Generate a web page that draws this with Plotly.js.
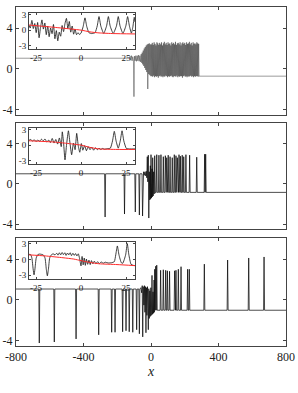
<!DOCTYPE html>
<html>
<head>
<meta charset="utf-8">
<script src="https://cdn.plot.ly/plotly-3.0.1.min.js"></script>
<style>html,body{margin:0;padding:0;background:#fff;}#chart{width:298px;height:393px;}</style>
</head>
<body>
<div id="chart"></div>
<script>
// ---------- tick labels ----------
const xTickVals = [-800, -400, 0, 400, 800];
const xTickText = ['-800', '-400', '0', '400', '800'];
const yTickVals = [-4, 0, 4];
const yTickText = ['-4', '0', '4'];
const insetXTickVals = [-25, 0, 25];
const insetXTickText = ['-25', '0', '25'];
const insetYTickVals = [-3, 0, 3];
const insetYTickText = ['-3', '0', '3'];
const xTitle = 'x';

// ---------- panel 1 (main) ----------
const main1X = [-800,-128,-124,-120,-116,-112,-108,-104,-101,-98,-94,-90,-86,-82,-78,-74,-70,-66,-62,-58,-55,-52,-49,-46,-43,-40,-37,-34,-31,-28,-25,-22,-19,-16,-13,-10,-7,-4,-1,
  2,4.8,7.5,10.3,13,15.7,18.5,21.2,24,26.8,
  29.5,32.3,35,37.7,40.5,43.2,46,48.8,51.5,54.3,
  57,59.7,62.5,65.2,68,70.8,73.5,76.3,79,81.7,
  84.5,87.2,90,92.8,95.5,98.3,101,103.7,106.5,109.2,
  112,114.8,117.5,120.3,123,125.7,128.5,131.2,134,136.8,
  139.5,142.3,145,147.7,150.5,153.2,156,158.8,161.5,164.3,
  167,169.7,172.5,175.2,178,180.8,183.5,186.3,189,191.7,
  194.5,197.2,200,202.8,205.5,208.3,211,213.7,216.5,219.2,
  222,224.8,227.5,230.3,233,235.7,238.5,241.2,244,246.8,
  249.5,252.3,255,257.7,260.5,263.2,266,268.8,271.5,274.3,
  277,279.7,282.5,285.2,
  800];
const main1Y = [1.05,1.05,1.25,0.85,1.3,0.8,1.2,0.9,-2.7,1.25,0.8,1.3,0.75,1.3,0.8,1.35,0.75,1.3,0.7,1.45,0.6,1.6,0.45,1.8,0.3,2.0,0.1,2.15,-0.1,2.3,-0.3,2.4,-1.95,2.45,-0.5,2.5,-0.6,2.4,-0.7,
  2.4,-0.7,2.55,-0.75,2.35,-0.65,2.6,-0.8,2.45,-0.7,
  2.3,-0.75,2.6,-0.7,2.5,-0.85,2.35,-0.7,2.55,-0.65,
  2.4,-0.75,2.6,-0.7,2.3,-0.8,2.5,-0.7,2.65,-0.75,
  2.4,-0.65,2.55,-0.7,2.35,-0.8,2.6,-0.7,2.45,-0.75,
  2.5,-0.7,2.3,-0.65,2.6,-0.75,2.45,-0.8,2.55,-0.7,
  2.4,-0.7,2.65,-0.75,2.35,-0.65,2.5,-0.8,2.55,-0.7,
  2.4,-0.75,2.6,-0.7,2.3,-0.7,2.5,-0.85,2.6,-0.7,
  2.45,-0.65,2.55,-0.75,2.35,-0.7,2.6,-0.8,2.45,-0.7,
  2.5,-0.75,2.65,-0.7,2.4,-0.65,2.55,-0.75,2.3,-0.7,
  2.6,-0.8,2.45,-0.7,2.5,-0.75,2.4,-0.7,2.6,-0.7,
  2.5,-0.75,2.45,-0.7,
  -0.7];

// ---------- panel 1 (inset) ----------
const inset1X = [-29,-28.2,-27.3,-26.5,-25.7,-24.9,-24.1,-23.3,-22.5,-21.7,-20.9,-20.1,-19.3,-18.5,-17.7,-16.9,-16.1,-15.3,-14.5,-13.7,-12.9,-12.1,-11.3,-10.5,-9.7,-8.9,-8.1,-7.3,-6.5,-5.7,-4.9,-4.1,-3.3,-2.5,-1.7,-0.9,
  0,1.2,2.2,3.2,4.4,6,7.8,9,10,11,12.6,14.2,15.2,16.2,17.9,19.7,20.7,21.7,23.3,24.9,25.9,26.9,28,28.8,29.6,30];
const inset1Y = [1.0,0.4,1.9,0.3,1.3,-0.5,1.5,-1.5,0.5,2.0,0.2,1.4,-0.9,0.8,-1.3,0.4,-0.7,1.1,-1.7,-0.1,-2.1,-0.4,-1.2,0.9,-0.3,1.3,2.3,0.3,1.7,-0.4,0.8,-0.8,0.2,-0.9,-0.5,-0.85,
  -0.6,0.7,2.4,0.7,-0.5,-0.68,-0.5,0.8,2.65,0.8,-0.65,0.8,2.65,0.8,-0.65,0.8,2.65,0.8,-0.65,0.8,2.65,0.8,-0.6,0.6,2.5,1.6];
const mean1X = [-29,-15,-5,0,5,10,18,30];
const mean1Y = [1.0,0.55,0.2,0.0,-0.35,-0.55,-0.68,-0.75];

// ---------- panel 2 (main) ----------
const main2X = [-800,-275,-272,-269,-160,-157,-154,-96,-93,-90,-72,-69,-66,-53,-50,-47,-44,-40,-36,-32,-28,-25,
  -22,-19,-16,-13,-10,-7,-4,-2,0,3,6,8,10,13,16,19,22,26,
  31,34,37,44,47,50,56,59,62,70,73,76,82,85,88,90,93,96,99,102,105,110,113,116,123,126,129,135,138,141,145,148,151,153,156,159,163,166,169,171,174,177,182,185,188,191,194,197,204,207,210,226,229,232,
  268,271,274,315,318,321,324,327,800];
const main2Y = [1.0,1.0,-3.3,1.0,1.0,-3.0,1.0,1.0,-2.8,1.0,1.0,-3.1,1.0,1.0,-3.2,1.0,1.2,0.85,1.2,0.8,1.25,0.6,
  2.7,0.2,2.85,-3.4,1.2,-1.6,1.8,-1.5,2.9,-1.4,1.5,-1.3,2.6,-1.2,1.2,-1.0,2.8,-0.9,
  -0.85,2.9,-0.85,-0.85,2.85,-0.85,-0.85,2.9,-0.85,-0.85,2.7,-0.85,-0.85,2.8,-0.85,-0.85,2.6,-0.85,-0.85,2.85,-0.85,-0.85,2.7,-0.85,-0.85,2.6,-0.85,-0.85,2.9,-0.85,-0.85,2.8,-0.85,-0.85,2.6,-0.85,-0.85,2.9,-0.85,-0.85,2.75,-0.85,-0.85,2.85,-0.85,-0.85,2.7,-0.85,-0.85,2.9,-0.85,-0.85,2.85,-0.85,
  -0.85,2.65,-0.85,-0.85,2.95,-0.85,2.95,-0.85,-0.85];

// ---------- panel 2 (inset) ----------
const inset2X = [-29,-28,-27,-26,-25,-24,-23,-22,-21,-20,-19,-18,-17,-16,-15,-14,-13,-12,-11,-10.4,-9.7,-8.9,-8,-7,-6.2,-5.2,-4.2,-3.3,-2.4,-1.5,-0.7,0.2,1,2,3,4,5,6,7,8,9,10,11,12,13,14.5,16.3,17.5,18.5,19.5,20.7,21.8,22.8,23.8,25.2,27,30];
const inset2Y = [0.9,1.1,0.8,1.05,0.7,1.0,0.75,1.15,0.85,1.2,0.6,1.0,0.5,1.3,0.4,1.1,0.2,1.4,-0.3,2.6,0.5,-2.9,0.2,2.8,0.6,-1.9,0.4,-0.9,2.3,-0.2,-1.4,0.3,-1.0,-0.1,-1.1,-0.3,-0.9,-0.4,-1.0,-0.5,-0.9,-0.6,-0.85,-0.65,-0.8,-0.7,-0.6,0.8,2.7,0.8,-0.6,0.8,2.8,0.8,-0.65,-0.75,-0.75];
const mean2X = [-29,-15,-8,0,5,10,20,30];
const mean2Y = [0.85,0.6,0.35,0.0,-0.45,-0.75,-0.85,-0.85];

// ---------- panel 3 (main) ----------
const main3X = [-800,-665,-662,-659,-576,-573,-570,-447,-444,-441,-313,-310,-307,-236,-233,-230,-216,-213,-210,-171,-168,-165,-151,-148,-145,-132,-129,-126,-111,-108,-105,-88,-85,-82,-72,-69,-66,
  -60,-55,-52,-49,-46,-42,-39,-36,-33,-30,-27,-24,-21,-18,-16,-13,-10,-7,-4,-1,2,6,9,12,15,18,20,22,25,28,31,34,37,
  54,57,60,70,73,76,84,87,90,94,97,100,107,110,113,137,140,143,145,148,151,159,162,165,175,178,181,214,217,220,224,227,230,
  313,316,319,451,454,457,576,579,582,667,670,673,800];
const main3Y = [1.07,1.07,-4.2,1.07,1.07,-4.1,1.07,1.07,-3.8,1.07,1.07,-3.4,1.07,1.07,-3.15,1.07,1.07,-3.15,1.07,1.07,-3.1,1.07,1.07,-3.0,1.07,1.07,-3.1,1.07,1.07,-3.15,1.07,1.07,-2.9,1.07,1.07,-3.3,1.07,
  1.2,0.7,1.4,-3.6,1.3,-0.5,1.4,-1.2,1.3,-3.2,1.2,-1.5,1.3,-0.8,-2.9,1.1,-1.8,0.9,-1.6,1.2,-1.5,2.4,-1.4,0.8,-1.3,1.95,-1.2,3.0,-1.0,3.3,-1.0,3.4,-1.0,
  -1.0,2.9,-1.0,-1.0,2.95,-1.0,-1.0,2.9,-1.0,-1.0,2.85,-1.0,-1.0,2.8,-1.0,-1.0,2.85,-1.0,-1.0,2.9,-1.0,-1.0,3.0,-1.0,-1.0,3.25,-1.0,-1.0,3.0,-1.0,-1.0,3.0,-1.0,
  -1.0,3.5,-1.0,-1.0,3.9,-1.0,-1.0,4.1,-1.0,-1.0,4.2,-1.0,-1.0];

// ---------- panel 3 (inset) ----------
const inset3X = [-29,-28,-27.3,-26.6,-26.1,-25.6,-24.9,-24,-23,-22,-21,-20,-19.3,-18.7,-18.1,-17.4,-16.5,-15.5,-14.5,-13.5,-12.8,-12,-11.3,-10.5,-9.8,-9,-8.3,-7.5,-6.8,-6,-5.3,-4.5,-3.8,-3,-2.3,-1.5,-0.8,
  0,0.6,1.2,1.8,2.4,3,3.7,4.4,5.1,5.8,6.6,7.4,8.3,9.2,10.2,11.2,12.3,13.5,15,17,18.5,19.3,20.2,21.1,22.4,23.2,24.8,25.7,26.6,27.8,29,30];
const inset3Y = [1.0,0.95,0.3,-1.8,-2.9,-1.8,0.3,0.95,1.05,1.0,0.9,0.3,-1.8,-3.1,-1.8,0.3,0.9,1.1,0.9,1.2,0.85,1.3,0.9,1.35,0.95,1.3,0.8,1.25,0.9,1.3,0.75,1.2,0.8,1.15,0.7,1.1,0.2,
  -1.2,0.6,-1.0,0.3,-1.1,0.1,-0.9,-0.1,-0.95,-0.2,-0.8,-0.3,-0.8,-0.4,-0.75,-0.45,-0.7,-0.5,-0.65,-0.6,-0.4,0.9,2.6,0.9,-0.6,-0.7,0.9,3.05,0.9,-0.9,-1.1,-1.15];
const mean3X = [-29,-20,-10,-4,0,5,10,20,30];
const mean3Y = [0.9,0.7,0.35,0.1,-0.2,-0.55,-0.8,-0.95,-1.15];

// ---------- figure ----------
const FONT = '"Liberation Serif", "DejaVu Serif", serif';
const AX = '#444';

function lineTrace(x, y, xa, ya, color, width, shape) {
  return {x: x, y: y, xaxis: xa, yaxis: ya, type: 'scatter', mode: 'lines',
    line: {color: color, width: width, shape: shape || 'linear', smoothing: 0.5},
    hoverinfo: 'skip'};
}

const data = [
  lineTrace(main1X, main1Y, 'x', 'y', '#222', 0.45),
  lineTrace(main2X, main2Y, 'x2', 'y2', '#000', 0.7),
  lineTrace(main3X, main3Y, 'x3', 'y3', '#000', 0.7),
  lineTrace(inset1X, inset1Y, 'x4', 'y4', '#111', 0.8, 'spline'),
  lineTrace(mean1X, mean1Y, 'x4', 'y4', '#ff2a2a', 1, 'spline'),
  lineTrace(inset2X, inset2Y, 'x5', 'y5', '#111', 0.8, 'spline'),
  lineTrace(mean2X, mean2Y, 'x5', 'y5', '#ff2a2a', 1, 'spline'),
  lineTrace(inset3X, inset3Y, 'x6', 'y6', '#111', 0.8, 'spline'),
  lineTrace(mean3X, mean3Y, 'x6', 'y6', '#ff2a2a', 1, 'spline')
];

function mainX(anchor, labels) {
  const a = {domain: [16/298, 286/298], range: [-800, 800], anchor: anchor,
    tickmode: 'array', tickvals: xTickVals, ticktext: xTickText,
    ticks: 'inside', ticklen: 3, tickwidth: 1, tickcolor: AX,
    showline: true, linecolor: AX, linewidth: 1, mirror: 'ticks',
    showgrid: false, zeroline: false, showticklabels: labels,
    tickfont: {family: FONT, size: 12, color: '#222'}, fixedrange: true};
  if (labels) a.title = {text: '<i>' + xTitle + '</i>', font: {family: FONT, size: 14, color: '#222'}, standoff: 2};
  return a;
}
function mainY(anchor, dom) {
  return {domain: dom, range: [-4.49, 6.05], anchor: anchor,
    tickmode: 'array', tickvals: yTickVals, ticktext: yTickText,
    ticks: 'inside', ticklen: 3, tickwidth: 1, tickcolor: AX,
    showline: true, linecolor: AX, linewidth: 1, mirror: 'ticks',
    showgrid: false, zeroline: false,
    tickfont: {family: FONT, size: 12, color: '#222'}, fixedrange: true};
}
function insetX(anchor) {
  return {domain: [29/298, 135/298], range: [-28.9, 30], anchor: anchor,
    tickmode: 'array', tickvals: insetXTickVals, ticktext: insetXTickText,
    ticks: 'inside', ticklen: 2, tickwidth: 1, tickcolor: AX,
    showline: true, linecolor: AX, linewidth: 1, mirror: 'ticks',
    showgrid: false, zeroline: false,
    tickfont: {family: FONT, size: 9, color: '#222'}, fixedrange: true};
}
function insetY(anchor, dom) {
  return {domain: dom, range: [-3.7, 3.35], anchor: anchor,
    tickmode: 'array', tickvals: insetYTickVals, ticktext: insetYTickText,
    ticks: 'inside', ticklen: 2, tickwidth: 1, tickcolor: AX,
    showline: true, linecolor: AX, linewidth: 1, mirror: 'ticks',
    showgrid: false, zeroline: false,
    tickfont: {family: FONT, size: 9, color: '#222'}, fixedrange: true};
}

const H = 393;
const layout = {
  width: 298, height: 393,
  margin: {l: 0, r: 0, t: 0, b: 0},
  paper_bgcolor: '#fff', plot_bgcolor: '#fff',
  showlegend: false,
  font: {family: FONT, size: 12, color: '#222'},
  xaxis: mainX('y', false),
  yaxis: mainY('x', [1 - 115/H, 1 - 7/H]),
  xaxis2: mainX('y2', false),
  yaxis2: mainY('x2', [1 - 229/H, 1 - 123/H]),
  xaxis3: mainX('y3', true),
  yaxis3: mainY('x3', [1 - 346/H, 1 - 238/H]),
  xaxis4: insetX('y4'),
  yaxis4: insetY('x4', [1 - 49/H, 1 - 13/H]),
  xaxis5: insetX('y5'),
  yaxis5: insetY('x5', [1 - 164/H, 1 - 128/H]),
  xaxis6: insetX('y6'),
  yaxis6: insetY('x6', [1 - 279/H, 1 - 242/H])
};

Plotly.newPlot('chart', data, layout, {staticPlot: true, displayModeBar: false});
</script>
</body>
</html>
